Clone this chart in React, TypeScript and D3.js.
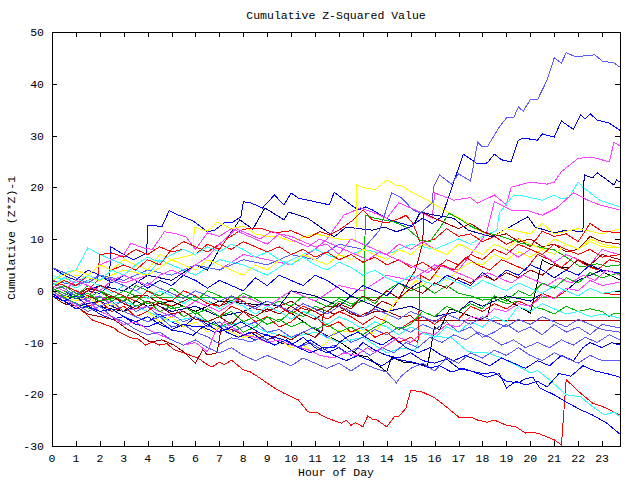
import React from "react";
import * as d3 from "d3";

type P = [number, number];

const title = "Cumulative Z-Squared Value";
const xLabel = "Hour of Day";
const yLabel = "Cumulative (Z*Z)-1";
const xTicks = d3.range(0, 24);
const yTicks = [-30, -20, -10, 0, 10, 20, 30, 40, 50];

const redBottom: P[] = [[0,0],[0.5,-1.5],[1,-3],[1.3,-4],[1.7,-5.7],[2.2,-6.5],[2.6,-7.2],[2.8,-8],[3.3,-9.1],[3.6,-9.3],[3.9,-10.5],[4.2,-9.9],[4.5,-10.5],[4.8,-10.2],[5.1,-11.4],[5.5,-12],[6.1,-13],[6.5,-14.3],[6.7,-14.7],[7,-13.8],[7.2,-14.3],[7.5,-13.4],[8,-15.3],[8.3,-15.7],[8.7,-16.9],[9.3,-18.8],[9.7,-19.8],[10.3,-21.1],[10.7,-23.4],[11.1,-23.6],[11.5,-24.6],[12.1,-25.6],[12.3,-25],[12.5,-26],[12.7,-25.5],[13,-26.3],[13.2,-24.2],[13.4,-24.8],[13.6,-25],[14,-26.3],[14.3,-24.4],[14.5,-24.3],[14.8,-22.7],[15,-19.2],[15.5,-19.6],[16,-20.7],[16.4,-22.1],[17,-24.4],[17.5,-24.4],[17.8,-25],[18.2,-25.4],[18.5,-25],[19,-26],[19.4,-26.3],[19.8,-27.5],[20.1,-27.3],[20.4,-27.7],[21,-28.8],[21.3,-29.8],[21.5,-17.2],[22.1,-19.8],[22.6,-21.7],[23.2,-22.7],[23.75,-24]];
const greenFlat: P[] = [[0,0],[0.4,-1],[0.8,-2],[1.2,-2.8],[1.6,-3.5],[1.9,-1.4],[23.75,-1.4]];
const blueTop: P[] = [[0,0],[0.5,-1],[1,-1.5],[1.5,0],[2,-0.5],[2.4,1],[2.45,8.5],[3,7],[3.4,6],[3.96,7.3],[4,12.7],[4.6,12.4],[4.9,15.5],[5.3,14.6],[5.9,13.5],[6.5,11.4],[6.8,11.7],[7.2,13.1],[7.5,13.1],[7.9,14.3],[8,17.2],[8.3,17],[8.8,16],[9.3,18.5],[9.7,16.6],[10,18.9],[10.3,17.9],[11.6,16.6],[11.8,19],[12.8,15.6],[13.1,16.2],[13.4,15.6],[14.1,13.7],[14.4,13.3],[15,12.5],[15.5,14],[15.9,13],[16.3,14.3],[17.2,26.4],[17.8,24.5],[18.2,24.7],[18.5,26.4],[18.8,25.3],[19.2,24.9],[19.5,29.1],[19.7,29.5],[20.3,29.1],[20.5,30.3],[21,29.7],[21.3,32.8],[21.8,31.2],[22.1,34],[22.3,33.2],[22.5,34.2],[22.8,33],[23.3,32.4],[23.75,31]];
const magentaTop: P[] = [[0,2],[0.5,3],[1,1],[2,3],[3,1.5],[4,3],[5,2],[6,5],[7,4],[8,7],[9,6],[10,5],[11,8],[11.5,10],[12.2,14.6],[12.9,16],[13.5,15],[14,14],[14.5,17],[15,16],[15.5,15],[15.9,14],[16,18.9],[16.8,17.5],[17.5,18],[17.8,16.9],[18.5,18.5],[19,16.6],[19.2,20],[20,21],[20.7,20.6],[21,21],[21.3,23],[22,25.6],[22.6,25.8],[23.3,24.9],[23.5,28.7],[23.75,28]];
const cyanTop: P[] = [[0,2],[0.5,3.5],[1,4],[1.5,8.3],[2,7],[2.5,6],[3,5],[4,3],[4.5,6],[5,5],[6,3],[7,6],[8,5],[9,3],[10,6],[11,8],[12,6],[13,8],[14,7],[15,9],[16,8],[17,10],[17.5,9],[18,10.5],[18.6,11.7],[18.7,15],[19.3,18.5],[19.6,18.4],[20.1,17.9],[20.5,17.5],[21,18.5],[21.3,17.8],[21.6,18],[22,21],[22.2,20],[22.9,17.5],[23.75,16.2]];
const darkredFlat: P[] = [[0,1],[0.5,0],[1,-1],[1.5,0.5],[2,0],[2.5,-1.5],[3,-2],[3.5,-1],[4,-1],[4.5,-2.5],[5,-3],[5.5,-2],[6,-1],[6.5,-2],[7,-3],[7.5,-2],[8,-2],[8.5,-3.5],[9,-4],[9.5,-3],[10,-2],[10.5,-3.5],[11,-4],[11.5,-3],[12,-3],[12.5,-4.5],[13,-5],[13.5,-4],[14,-4],[14.6,-5.1],[15,-4.8],[15.2,-5.7],[23.75,-5.7]];
const navyA: P[] = [[0,1],[1,-1],[2,1],[3,0],[4,3],[5,2],[6,5],[6.5,4],[7,8],[7.85,13.7],[8.4,11.9],[8.9,16],[9.7,13.7],[9.9,15.2],[10.7,14],[11.8,10.4],[12.3,12.3],[13.4,11.7],[13.9,12.3],[14.4,11.4],[15.1,12.5],[15.4,15.2],[16,14.6],[16.8,14],[17.4,11.7],[18.4,10.4],[18.9,11.7],[19.9,14.3],[20.2,12.3],[21,11.2],[21.5,11.7],[22.2,11.4],[22.25,22.4],[22.6,21.8],[22.8,22.8],[23.5,20.4],[23.6,21.4],[23.75,21]];
const lblueTop: P[] = [[0,2],[1,1],[2,3],[3,2],[4,4],[5,3],[6,5],[7,4],[8,6],[9,5],[10,7],[11,6],[12,9],[13,8],[13.7,11.7],[14.2,18.9],[14.6,18],[15.1,15.6],[15.4,15],[15.9,17],[15.95,20],[16.2,22.4],[16.7,20.6],[17,22.6],[17.5,21.2],[17.8,28.7],[18,27.8],[18.2,27.8],[18.7,31.6],[19,33.4],[19.3,33.4],[19.5,35.5],[19.7,34.7],[20,36.9],[20.3,36.9],[20.7,40.7],[21,45],[21.3,44],[21.5,46],[21.9,45.2],[22.7,45.6],[23,44.4],[23.5,44],[23.75,43.2]];
const yellowA: P[] = [[0,1],[1,3],[2,2],[3,4],[4,3],[5,6],[5.9,7],[5.95,12.3],[6.5,11.5],[6.9,13.3],[7.5,12],[8,12.5],[8.5,11],[9,10.5],[9.5,10.4],[10,9.5],[11,11],[12,10],[12.7,9.8],[12.75,20.4],[13,20],[13.5,19.5],[14,21.4],[14.4,20.4],[14.6,20.3],[15.1,18.9],[15.7,17.5],[16.4,15.6],[16.9,14.3],[17.4,13.1],[17.8,11.7],[18.5,10.5],[19,12],[20,11],[20.5,13],[21,11],[22,12],[23,11],[23.75,12]];
const blackA: P[] = [[0,0],[0.5,-1],[1,-2],[1.5,-1],[2,-3],[3,-4],[3.5,-2],[4,-3],[5,-2],[6,-4],[7,-2],[7.9,-2.4],[8.4,-2.6],[9.5,-2.8],[10.4,-5.6],[10.9,-7.2],[12.1,-10.1],[12.8,-12.4],[13.2,-12.8],[14,-15.7],[14.2,-12.8],[14.7,-13.8],[15.2,-14],[15.7,-14.5],[16,-7],[16.2,-7.6],[16.6,-3.7],[16.8,-3.7],[17.9,-5.6],[18.2,-5],[18.4,-1.4],[18.9,-1.4],[20,-4.3],[20.1,-2.4],[20.5,6],[20.7,5.4],[21.3,4.4],[21.6,4.4],[22,6],[22.4,5],[23.75,2.1]];
const redTop: P[] = [[0,1],[0.5,0],[1,-1],[1.5,0],[1.9,2],[2,7],[2.5,7.3],[3,6.5],[3.5,8],[4,7],[4.5,8.5],[5,7.5],[5.5,8],[6,7],[6.5,9],[7,8],[7.3,10],[7.9,11.7],[8.3,12.1],[8.7,12.1],[9.3,11.2],[10,11.6],[10.7,10.2],[11.2,11.4],[11.6,10.8],[12,11.7],[12.6,13.7],[13,15.6],[13.4,13.7],[14,13.1],[14.6,14.1],[14.8,14.6],[15.1,13],[15.4,9.2],[16,10],[16.5,12],[17,10.5],[17.5,11],[18,9.5],[18.5,10.5],[19,9],[19.5,10],[20,8.5],[20.5,11.5],[21,10.5],[21.5,11],[22,9.5],[22.5,13],[23,11.5],[23.75,11.2]];
const greenB: P[] = [[0,0],[0.5,1],[1,-0.5],[1.5,-1.5],[2,0],[2.5,-1],[3,-2],[3.5,1],[4,0],[4.5,-1],[5,0.5],[5.5,-1],[6,-2],[6.5,0],[7,-1],[7.5,-2],[8,-0.5],[8.5,-1.5],[9,-3],[9.5,-2],[10,-3],[10.5,-1],[11,-2],[11.5,-3],[12,-1.5],[12.5,-2.5],[13.05,-2],[13.1,14.6],[13.5,14],[14.3,13.3],[14.8,12.3],[15.4,9.8],[15.8,9.5],[16.2,12],[16.6,15],[17,14],[17.5,12.5],[18,11.4],[18.8,10.5],[19.6,9.2],[20.3,8.5],[21,7.9],[21.5,6.5],[22.1,4.6],[22.8,5.2],[23.2,4.7],[23.75,5]];
const blueBottom: P[] = [[0,1],[0.5,0],[1,-1.5],[1.5,-1],[2,-3],[2.5,-4],[3,-3],[3.5,-5],[4,-6],[4.5,-4.5],[5,-6],[5.5,-7],[6,-5],[6.5,-6.5],[7,-8],[7.5,-7],[8,-8.5],[8.5,-9.5],[9,-8.5],[9.5,-10],[10,-10.5],[10.5,-9],[11,-11],[11.5,-12],[12,-11],[12.5,-12.5],[13,-10],[13.5,-11.5],[14,-12.5],[14.5,-13],[15,-12],[15.5,-13.5],[16,-14],[16.5,-13.2],[17,-15],[17.5,-15.5],[18,-16],[18.5,-15.8],[19,-17.5],[19.5,-17.8],[19.8,-17],[20.1,-16.7],[20.4,-18.8],[21,-20.1],[21.5,-21.5],[22.1,-23],[22.6,-24],[23.2,-25.6],[23.75,-27.7]];
const magentaB: P[] = [[0,0],[1,-2],[2,-1],[3,-4],[4,-3],[5,-5],[6,-2],[7,-4],[8,-1],[9,-3],[10,0],[11,-2],[12,1],[13,0],[14,3],[15,2],[16,5],[17,4],[17.5,7],[18,10],[18.2,11.7],[18.5,17.2],[19.2,15.6],[19.8,15.6],[20.5,14.6],[21.1,16],[21.8,18.9],[22,18.5],[22.4,17.5],[22.9,16.6],[23.75,15.6]];
const cyanLow: P[] = [[0,1],[1,-1],[2,-3],[3,-2],[4,-4],[5,-6],[6,-5],[7,-7],[8,-6],[9,-8],[10,-9],[11,-8],[12,-10],[13,-9],[14,-12],[14.6,-11.1],[15.2,-11.5],[15.4,-8.2],[16,-8.8],[16.7,-9.1],[17.4,-11.8],[18.2,-12],[18.7,-12.8],[19.4,-14.3],[20,-15.9],[20.3,-15.4],[20.8,-17.2],[21.5,-20.1],[22.1,-20.5],[22.6,-22.4],[23.1,-24],[23.5,-23.4],[23.75,-24.4]];
const darkredB: P[] = [[0,-1],[0.5,-2.5],[1,-3],[1.5,-4.5],[2,-5],[2.6,-5.6],[3.2,-7.6],[3.5,-8.2],[4.1,-9.9],[4.6,-9.5],[5.1,-10.5],[5.5,-11.8],[6,-14],[6.3,-11.4],[6.5,-12.4],[6.9,-12],[7.1,-6.6],[7.5,-7.5],[8,-8.5],[8.5,-8],[9,-9.5],[9.5,-8.5],[10,-9.5],[10.5,-8],[11,-9],[11.3,-7.6],[11.35,-3.7],[11.8,-4.5],[12.3,-3.5],[12.8,-5],[13.3,-4],[13.8,-2],[14.3,-3],[14.8,1],[15.2,4],[15.5,9.2],[15.55,15],[16,14],[16.5,13],[17,12],[17.5,13],[18,11.5],[18.5,10.5],[19,11],[19.5,9.5],[20,10],[20.5,8.5],[21,9],[21.5,7.5],[22,8],[22.5,10.5],[23,9.5],[23.75,9]];
const navyB: P[] = [[0,-1],[1,-3],[2,-2],[3,-4],[4,-2],[5,-4],[6,-3],[7,-5],[8,-4],[9,-2],[9.5,-3],[10,0],[11,-1],[12,-3],[12.5,-1],[13,-2],[14,-4],[15,-3],[16,-5],[17,-4],[17.5,-2],[18,-3],[19,-1],[20,-2],[21,1],[21.5,0],[22,2],[23,4],[23.75,3.4]];
const lblueB: P[] = [[0,1.5],[0.5,0.5],[1,-1],[1.5,-2],[2,-1],[2.5,-3],[3,-2],[3.5,-4],[4,-3],[4.5,-5],[5,-4.5],[5.5,-6],[6,-5],[6.5,-7],[7,-6],[7.5,-8],[8,-7],[8.5,-6],[9,-8],[9.5,-7.5],[10,-9],[10.5,-8],[11,-7],[11.5,-9],[12,-8],[12.5,-10],[13,-9],[13.5,-7.5],[14,-8.5],[14.5,-7],[15,-8],[15.5,-6.5],[16,-7.5],[16.5,-6],[17,-8],[17.5,-7],[18,-9],[18.5,-8],[19,-6.5],[19.5,-8],[20,-7],[20.5,-8.5],[21,-6.5],[21.5,-8],[22,-7],[22.5,-8.5],[23,-6.5],[23.75,-7.2]];
const yellowB: P[] = [[0,0],[0.5,-1],[1,-2],[1.5,-1],[2,-3],[2.5,-2.5],[3,-4],[3.5,-5],[4,-4],[4.5,-6],[5,-5],[5.5,-7],[6,-6],[6.5,-8],[7,-7],[7.5,-8],[8,-9],[8.5,-8.5],[9,-10],[9.5,-9.5],[10,-11],[10.5,-10.5],[10.9,-11.8],[11.5,-10],[11.9,-7.6],[12.5,-8],[13,-7.5],[13.4,-8.2],[13.7,-7],[14.3,-2.4],[14.8,-0.4],[15.2,2],[15.5,1],[16,3],[16.5,2],[17,4],[17.5,5.5],[18,5],[18.5,7],[19,6],[19.5,7.5],[20,6.5],[20.5,8],[21,7],[21.5,9],[22,8],[22.5,10],[23,9],[23.75,8.3]];
const redC: P[] = [[0,-1],[0.5,-2],[1,-1],[1.5,-3],[2,-2],[2.5,-4],[3,-3],[3.5,-5],[4,-4],[4.5,-2],[5,-3],[5.5,-5],[6,-4],[6.5,-6],[7,-5],[7.5,-3],[8,-4],[8.5,-6],[9,-5],[9.5,-7],[10,-6],[10.5,-4],[11,-5],[11.5,-7],[12,-6],[12.5,-8],[13,-7],[13.5,-9],[14,-8],[14.5,-10],[15,-9],[15.3,-10],[15.4,3],[15.8,2],[16.3,5],[16.8,4],[17.3,6.5],[17.8,5],[18.3,4],[18.8,6],[19.3,5],[19.8,4],[20.3,7],[20.8,6],[21.3,4.5],[21.8,6.5],[22.3,5],[22.8,4],[23.3,6],[23.75,5.5]];
const greenC: P[] = [[0,1],[0.5,0],[1,-1],[1.5,1],[2,0],[2.5,-2],[3,-1],[3.5,-3],[4,-2],[4.5,-4],[5,-3],[5.5,-5],[6,-4],[6.5,-6],[7,-7],[7.5,-6],[8,-8],[8.5,-7],[9,-5],[9.5,-6],[10,-4],[10.5,-5],[11,-3],[11.5,-4],[12,-2],[12.5,-3],[13,-1],[13.5,-2.5],[14,0],[14.5,1.5],[15,0],[15.5,1],[16,-0.5],[16.5,1],[17,-0.5],[17.5,-1],[18,-1.8],[18.5,-1.5],[19,-2.5],[19.5,-2],[20,-3],[20.5,-3.5],[21,-4.5],[21.5,-3],[22,-4],[22.5,-3.5],[23,-4],[23.3,-5],[23.5,-4.3],[23.75,-4.3]];
const blueC: P[] = [[0,4.5],[0.5,3],[1,2],[1.5,4],[2,3],[2.5,1.5],[3,3],[3.5,2],[4,0.5],[4.5,2],[5,1],[5.5,3],[6,2],[6.5,0.5],[7,2],[7.5,1],[8,0],[8.5,2.5],[9,1],[9.5,3],[10,2],[10.5,1],[11,3],[11.5,2],[12,0.5],[12.5,-1],[13,1],[13.5,0],[14,-1],[14.5,1.5],[15,0.5],[15.5,2],[16,1],[16.5,3],[17,2],[17.5,1],[18,3.5],[18.5,2],[19,4],[19.5,3],[20,5],[20.5,4],[21,2.5],[21.5,4],[22,3],[22.5,5],[23,4],[23.75,3.4]];
const magentaC: P[] = [[0,3],[0.5,2],[1,1],[1.5,3],[2,5],[2.5,6],[3,7],[3.3,9.2],[3.8,8.3],[4.2,8],[4.7,11.4],[5.2,11],[5.6,10.4],[6,8],[6.5,11.2],[7,10.5],[7.5,12],[8,11],[8.5,10],[9,9],[9.5,11],[10,10.5],[10.5,9.5],[11,8.5],[11.5,9],[12,7],[12.5,10],[13,9],[13.5,8],[14,7],[14.5,9],[15,8],[15.5,9.5],[16,8],[16.5,7],[17,9],[17.5,8],[18,7],[18.5,9],[19,8],[19.5,6.5],[20,8],[20.5,7],[21,5.5],[21.5,7],[22,6],[22.5,5],[23,8],[23.75,6.9]];
const cyanC: P[] = [[0,3],[0.5,2],[1,0.5],[1.5,2],[2,1],[2.5,-0.5],[3,1],[3.5,0],[4,-1.5],[4.5,0],[5,-1],[5.5,-2.5],[6,-1],[6.5,-2],[7,-3.5],[7.5,-2],[8,-3],[8.5,-4.5],[9,-3],[9.5,-4],[10,-5.5],[10.5,-4],[11,-5],[11.5,-6.5],[12,-5],[12.5,-6],[13,-7.5],[13.5,-6],[14,-7],[14.5,-8.5],[15,-7],[15.5,-8],[16,-9],[16.5,-7],[17,-8],[17.5,-6],[18,-7],[18.5,-5],[19,-6],[19.5,-3],[20,-4],[20.5,-2.5],[21,-3.5],[21.5,-4.5],[22,-4],[22.5,-5],[23,-4.5],[23.75,-5.3]];
const darkredC: P[] = [[0,2],[0.5,1],[1,0],[1.5,-1],[2,-2],[2.5,-1],[3,-2.5],[3.5,-3.5],[4,-2],[4.5,-3],[5,-4.5],[5.5,-4],[6,-5.5],[6.5,-6],[7,-5],[7.5,-6.5],[8,-4],[8.5,-5],[9,-3.5],[9.5,-4.5],[10,-3],[10.5,-4.5],[11,-5.5],[11.5,-4],[12,-2.5],[12.5,-3.5],[13,-1],[13.5,-2],[14,0],[14.5,-1.5],[15,0.5],[15.5,-0.5],[16,1.5],[16.5,0.5],[17,2.5],[17.5,1.5],[18,3],[18.5,2],[19,3.5],[19.5,2.5],[20,4],[20.5,3],[21,5],[21.5,4],[22,6],[22.5,5],[23,7],[23.75,6]];
const lblueC: P[] = [[0,0.5],[0.5,-1],[1,0],[1.5,-2],[2,-3],[2.5,-2],[3,-4],[3.5,-5],[4,-6],[4.5,-5],[5,-7],[5.5,-6.5],[6,-8],[6.5,-8.9],[7,-10.3],[7.5,-9.1],[8,-9.5],[8.3,-9.9],[8.8,-9],[9.3,-10.5],[9.8,-9.5],[10.3,-11],[10.8,-10],[11.3,-11.5],[11.8,-10.5],[12.3,-12],[12.8,-11],[13.3,-12.5],[13.8,-11],[14.3,-12],[14.8,-10],[15.3,-11],[15.8,-9],[16.3,-10],[16.8,-8.5],[17.3,-9.5],[17.8,-8],[18.3,-9],[18.8,-10.5],[19.3,-9.5],[19.8,-11],[20.3,-10],[20.8,-11],[21.3,-9.5],[21.8,-10.5],[22.3,-9],[22.8,-10],[23.3,-8.5],[23.75,-9.5]];
const yellowC: P[] = [[0,2],[0.5,3],[1,4],[1.5,3],[2,5],[2.5,4],[3,6],[3.5,5],[4,4],[4.5,7],[5,6],[5.5,5],[6,4],[6.5,6],[7,5],[7.5,4],[8,3],[8.5,5],[9,4],[9.5,6],[10,5],[10.5,7],[11,6],[11.5,5],[12,7],[12.5,6],[13,8],[13.5,7],[14,6],[14.5,8],[15,7],[15.5,9],[16,8],[16.5,7],[17,9],[17.5,8],[18,7],[18.5,9],[19,8],[19.5,10],[20,9],[20.5,8],[21,10],[21.5,9],[22,8],[22.5,9.5],[23,8.5],[23.75,8.3]];
const redD: P[] = [[0,2],[0.5,1],[1,0],[1.5,-1],[2,1],[2.5,0],[3,-1],[3.5,-2],[4,0],[4.5,-1.5],[5,-2],[5.5,0],[6,-1],[6.5,-2.5],[7,-3],[7.5,-1],[8,-2],[8.5,-3.5],[9,-2],[9.5,-3],[10,-4.5],[10.5,-3],[11,-4],[11.5,-5.5],[12,-4],[12.5,-5],[13,-6.5],[13.5,-5],[14,-6],[14.5,-7.5],[15,-6],[15.5,-5],[16,-6.5],[16.5,-4.5],[17,-5.5],[17.5,-3],[18,-4],[18.5,-2.5],[19,-3.5],[19.5,-2],[20,-3],[20.5,-0.5],[21,-1.5],[21.5,0],[22,-1],[22.5,0.5],[23,-0.5],[23.75,-0.8]];
const blueD: P[] = [[0,-1],[0.5,-2],[1,-3.5],[1.5,-3],[2,-4.5],[2.5,-5.5],[3,-5],[3.5,-6.5],[4,-7],[4.5,-6],[5,-7.6],[5.5,-8],[5.9,-8.6],[6.3,-7],[6.8,-8],[7.3,-7.5],[7.9,-6],[8.7,-8.2],[9.7,-9.5],[10.3,-10.9],[10.8,-9.5],[11.3,-11],[11.8,-10.9],[12.3,-9],[12.8,-8],[13.3,-9.5],[13.8,-10.5],[14.3,-9],[14.8,-11],[15.3,-12],[15.8,-11],[16.3,-12.5],[16.8,-13.5],[17.3,-12.5],[17.8,-13.5],[18.3,-14.5],[18.8,-13],[19.3,-14],[19.8,-15],[20.3,-13.5],[20.8,-14.5],[21.3,-12.5],[21.8,-13.5],[22.2,-11],[22.5,-10],[23,-11],[23.4,-10],[23.75,-10.5]];
const magentaD: P[] = [[0,-0.5],[0.5,-1.5],[1,-3],[1.5,-2],[2,-4],[2.5,-5],[3,-6.5],[3.5,-6],[4,-7.5],[4.5,-8.5],[5,-9.5],[5.5,-10.5],[6,-10],[6.5,-11.8],[6.8,-8.2],[7.2,-6],[7.5,-7],[8,-8.5],[8.5,-9],[9,-10],[9.5,-9.5],[10,-10.5],[10.7,-11.4],[11.2,-12.5],[11.8,-13],[12.2,-12],[12.7,-12.5],[13.2,-11],[13.5,-12],[14,-10.5],[14.5,-9],[15,-10],[15.5,-8],[16,-8.5],[16.5,-6.5],[17,-7],[17.5,-5],[18,-5.5],[18.5,-3.5],[19,-4],[19.5,-2.5],[20,-3],[20.5,-1],[21,-1.5],[21.5,0.5],[22,0],[22.5,2],[23,1],[23.75,1.7]];
const lblueD: P[] = [[0,0],[0.5,-1.5],[1,-2.5],[1.5,-4],[2,-3],[2.5,-5],[3,-6],[3.5,-7.5],[4,-8.5],[4.5,-8],[5,-9.5],[5.5,-10.5],[6,-9.5],[6.5,-11],[7,-12],[7.5,-11],[8,-12.5],[8.5,-13.5],[9,-12.5],[9.5,-13.5],[10,-14.5],[10.5,-13],[11,-14],[11.5,-15],[12,-14],[12.5,-15.5],[13,-14],[13.5,-15],[14,-15.7],[14.4,-17.8],[14.6,-16.5],[15,-15],[15.5,-14],[16,-15.5],[16.5,-13],[17,-14],[17.5,-12],[18,-13],[18.5,-11.5],[19,-12.5],[19.5,-11],[20,-12.5],[20.5,-13.5],[21,-12],[21.5,-13],[22,-14],[22.5,-12.5],[23,-13.5],[23.75,-13.4]];
const redE: P[] = [[0,0.5],[0.5,2],[1,1],[1.5,3],[2,2],[2.5,4],[3,5],[3.5,4],[4,6],[4.5,5],[5,8],[5.5,9.5],[6,8.5],[6.5,7.5],[7,9],[7.5,8],[8,9.5],[8.5,8.5],[9,7.5],[9.5,8.5],[10,7],[10.5,8],[11,6.5],[11.5,7.5],[12,6],[12.5,7],[13,5.5],[13.5,6.5],[14,5],[14.5,6],[15,4.5],[15.5,5.5],[16,4],[16.5,6],[17,5],[17.5,7],[18,6],[18.5,8],[19,7],[19.5,9],[20,8],[20.5,7],[21,9],[21.5,8],[22,7],[22.5,8],[23,6.5],[23.75,7]];
const blueE: P[] = [[0,-0.5],[0.5,-2],[1,-1],[1.5,-3],[2,-4],[2.5,-3.5],[3,-5],[3.5,-6],[4,-5],[4.5,-6.5],[5,-7.5],[5.5,-6.5],[6,-7],[6.3,-7],[6.8,-6],[7.3,-8],[7.8,-9],[8.3,-8],[8.8,-9.5],[9.3,-10.5],[9.8,-9.5],[10.3,-11],[10.8,-12],[11.3,-11],[11.8,-12.5],[12.3,-13.5],[12.8,-12.5],[13.3,-13.5],[13.8,-14.5],[14.3,-13],[14.6,-13.4],[15.1,-13.8],[15.8,-14.9],[16.2,-14.5],[16.7,-15.7],[17.2,-15],[17.7,-15.8],[18.2,-16.7],[18.7,-16],[19,-18.8],[19.4,-17.5],[19.8,-18.2],[20.3,-17.5],[20.7,-18.6],[21.2,-16],[21.7,-16.5],[22.2,-14.5],[22.7,-15.5],[23.2,-16],[23.75,-16.7]];
const cyanD: P[] = [[0,1],[0.5,2.5],[1,1.5],[1.5,3],[2,2],[2.5,4],[3,3],[3.5,5],[4,6.5],[4.5,5.5],[5,7],[5.5,8],[6,7],[6.5,8.5],[7,7.5],[7.5,9],[8,8],[8.5,6.5],[9,7.5],[9.5,6],[10,5],[10.5,6.5],[11,5],[11.5,4],[12,5.5],[12.5,4.5],[13,3],[13.5,4],[14,2.5],[14.5,1.5],[15,3],[15.5,2],[16,1],[16.5,2.5],[17,1.5],[17.5,0.5],[18,2],[18.5,1],[19,0],[19.5,1.5],[20,0.5],[20.5,-0.5],[21,1],[21.5,0],[22,-1],[22.5,0.5],[23,-0.5],[23.75,0]];
const magentaE: P[] = [[0,1],[0.5,0],[1,2],[1.5,1],[2,0],[2.5,2],[3,3],[3.5,2],[4,1],[4.5,3],[5,4],[5.5,3],[6,5],[6.5,6.5],[7,9],[7.7,12],[8.2,11],[8.7,10],[9.2,11.5],[9.7,10.5],[10.2,9.5],[10.7,8.5],[11.2,10],[11.7,9],[12.2,8],[12.7,7],[13.2,6],[13.7,7.5],[14.2,6.5],[14.7,5.5],[15.2,4.5],[15.7,3.5],[16.2,5],[16.7,4],[17.2,3],[17.7,2],[18.2,3.5],[18.7,2.5],[19.2,1.5],[19.7,3],[20.2,2],[20.7,1],[21.2,2.5],[21.7,1.5],[22.2,3],[22.7,2],[23.2,4],[23.75,3]];
const lblueE: P[] = [[0,4.5],[0.5,3.5],[1,2.5],[1.5,1.5],[2,3],[2.5,2],[3,1],[3.5,0],[4,1.5],[4.5,0.5],[5,-0.5],[5.5,-1.5],[6,0],[6.5,-1],[7,-2],[7.5,-1],[8,-2.5],[8.5,-3.5],[9,-2],[9.5,-3],[10,-4],[10.5,-2.5],[11,-3.5],[11.5,-4.5],[12,-3],[12.5,-4],[13,-5],[13.5,-3.5],[14,-4.5],[14.5,-5.5],[15,-4],[15.5,-5],[16,-6],[16.5,-4.5],[17,-5.5],[17.5,-6.5],[18,-5],[18.5,-6],[19,-7],[19.5,-5.5],[20,-6.5],[20.5,-5],[21,-6],[21.5,-7],[22,-5.5],[22.5,-6.5],[23,-7.5],[23.75,-8]];
const greenD: P[] = [[0,0.5],[0.5,-0.5],[1,-1.5],[1.5,-0.5],[2,-2],[2.5,-1.5],[3,0],[3.5,-1],[4,-2.5],[4.5,-2],[5,-3.5],[5.5,-3],[6,-4.5],[6.5,-3.5],[7,-5],[7.5,-4],[8,-6],[8.5,-5],[9,-6.5],[9.5,-5.5],[10,-7],[10.5,-6],[11,-7.5],[11.5,-6.5],[12,-8],[12.5,-7],[13,-8.5],[13.5,-7],[14,-6],[14.5,-7.5],[15,-6.5],[15.5,-4],[16,-5],[16.5,-3],[17,-4],[17.5,-2.5],[18,-3.5],[18.5,-1],[19,-2],[19.5,0],[20,-1],[20.5,1.5],[21,0.5],[21.5,2.5],[22,1.5],[22.5,3.5],[23,2.5],[23.75,3.5]];

const palette: Record<string, string> = {
  red: "#ff0000",
  green: "#00b800",
  blue: "#0000ff",
  magenta: "#ff40ff",
  cyan: "#30ffff",
  darkred: "#a00000",
  navy: "#0000a0",
  lblue: "#5a5aff",
  yellow: "#ffff00",
  black: "#000000",
};

const seriesData: P[][] = [
  redBottom, greenFlat, blueTop, magentaTop, cyanTop, darkredFlat, navyA, lblueTop, yellowA, blackA,
  redTop, greenB, blueBottom, magentaB, cyanLow, darkredB, navyB, lblueB, yellowB,
  redC, greenC, blueC, magentaC, cyanC, darkredC, lblueC, yellowC,
  redD, blueD, magentaD, lblueD, redE, blueE, cyanD, magentaE, lblueE, greenD,
];
const seriesColors: string[] = [
  "red", "green", "blue", "magenta", "cyan", "darkred", "navy", "lblue", "yellow", "black",
  "red", "green", "blue", "magenta", "cyan", "darkred", "navy", "lblue", "yellow",
  "red", "green", "blue", "magenta", "cyan", "darkred", "lblue", "yellow",
  "red", "blue", "magenta", "lblue", "red", "blue", "cyan", "magenta", "lblue", "green",
];

const W = 640, H = 480;
const L = 52, R = 620, T = 32, B = 446;
const FONT = "'Liberation Mono', 'DejaVu Sans Mono', monospace";

export default function App() {
  const x = d3.scaleLinear().domain([0, 23.75]).range([L, R]);
  const y = d3.scaleLinear().domain([-30, 50]).range([B, T]);
  const line = d3.line<P>().x((d) => x(d[0])).y((d) => y(d[1]));
  const tk = 5;
  return (
    <svg width={W} height={H} style={{ position: "absolute", left: 0, top: 0, background: "#fff" }}>
      <rect x={0} y={0} width={W} height={H} fill="#fff" />
      <defs>
        <clipPath id="plot">
          <rect x={L} y={T} width={R - L} height={B - T} />
        </clipPath>
      </defs>
      <g clipPath="url(#plot)">
        {seriesData.map((s, i) => (
          <path key={i} d={line(s) || ""} fill="none" stroke={palette[seriesColors[i]]} strokeWidth={1} shapeRendering="crispEdges" />
        ))}
      </g>
      <g stroke="#000" strokeWidth={1} shapeRendering="crispEdges">
        <rect x={L + 0.5} y={T + 0.5} width={R - L} height={B - T} fill="none" />
        {xTicks.map((t) => (
          <g key={"xt" + t}>
            <line x1={Math.round(x(t)) + 0.5} x2={Math.round(x(t)) + 0.5} y1={B} y2={B - tk} />
            <line x1={Math.round(x(t)) + 0.5} x2={Math.round(x(t)) + 0.5} y1={T} y2={T + tk} />
          </g>
        ))}
        {yTicks.map((t) => (
          <g key={"yt" + t}>
            <line x1={L} x2={L + tk} y1={Math.round(y(t)) + 0.5} y2={Math.round(y(t)) + 0.5} />
            <line x1={R} x2={R - tk} y1={Math.round(y(t)) + 0.5} y2={Math.round(y(t)) + 0.5} />
          </g>
        ))}
      </g>
      <g fontFamily={FONT} fontSize={11.5} fill="#000">
        {xTicks.map((t) => (
          <text key={"xl" + t} x={x(t)} y={462} textAnchor="middle">{t}</text>
        ))}
        {yTicks.map((t) => (
          <text key={"yl" + t} x={44} y={y(t) + 4} textAnchor="end">{t}</text>
        ))}
        <text x={336} y={19} textAnchor="middle">{title}</text>
        <text x={336} y={476} textAnchor="middle">{xLabel}</text>
        <text transform={`translate(15,238) rotate(-90)`} textAnchor="middle">{yLabel}</text>
      </g>
    </svg>
  );
}
